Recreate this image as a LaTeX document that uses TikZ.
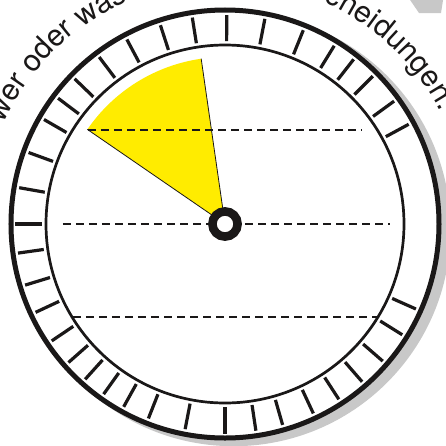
\documentclass[tikz,border=0pt]{standalone}
\usepackage{fontspec}
\usepackage{tikz}
\usetikzlibrary{decorations.text}
\newfontfamily\dialfont{TeX Gyre Heros}
\definecolor{dialyellow}{RGB}{255,236,0}
\definecolor{shadowgray}{RGB}{200,200,200}
\definecolor{ink}{RGB}{26,24,24}

\begin{document}
\begin{tikzpicture}[x=1pt, y=1pt,
    tickmark/.style={line width=3.2pt, ink},
    guide/.style={line width=1.5pt, ink, dash pattern=on 8pt off 5pt},
    rimtext/.style={decorate, decoration={text along path, text color=ink,
        text={|\dialfont\fontsize{30pt}{36pt}\selectfont|#1}}}]
    \useasboundingbox (-225,-221) rectangle (221,224);
    \clip (-225,-221) rectangle (221,224);
    \coordinate (ctr) at (0,0);
    \coordinate (shadowctr) at (8.6,-5.2);

    % shadow and face
    \fill[shadowgray] (181,230) -- (194,211) -- (216,211) -- (219,230) -- cycle;
    \fill[shadowgray] (shadowctr) circle[radius=217pt];
    \fill[white] (ctr) circle[radius=214pt];
    \draw[ink, line width=5pt] (ctr) circle[radius=214pt];
    \draw[ink, line width=2.7pt] (ctr) circle[radius=179pt];

    % ticks
    \draw[tickmark] (28.5:183pt) -- (28.5:209pt);
    \draw[tickmark] (36:183pt) -- (36:209pt);
    \draw[tickmark] (45:183pt) -- (45:209pt);
    \draw[tickmark] (52:183pt) -- (52:209pt);
    \draw[tickmark] (58.5:183pt) -- (58.5:209pt);
    \draw[tickmark] (68:183pt) -- (68:209pt);
    \draw[tickmark] (79:183pt) -- (79:209pt);
    \draw[tickmark] (89.5:183pt) -- (89.5:209pt);
    \draw[tickmark] (99:183pt) -- (99:209pt);
    \draw[tickmark] (108:183pt) -- (108:209pt);
    \draw[tickmark] (118:183pt) -- (118:209pt);
    \draw[tickmark] (127:183pt) -- (127:209pt);
    \draw[tickmark] (136:183pt) -- (136:209pt);
    \draw[tickmark] (143:183pt) -- (143:209pt);
    \draw[tickmark] (150:183pt) -- (150:209pt);
    \draw[tickmark] (160:183pt) -- (160:209pt);
    \draw[tickmark] (170:183pt) -- (170:209pt);
    \draw[tickmark] (180:183pt) -- (180:210pt);
    \draw[tickmark] (188:183pt) -- (188:209pt);
    \draw[tickmark] (197:183pt) -- (197:209pt);
    \draw[tickmark] (205:183pt) -- (205:209pt);
    \draw[tickmark] (214:183pt) -- (214:209pt);
    \draw[tickmark] (221.5:183pt) -- (221.5:209pt);
    \draw[tickmark] (228:183pt) -- (228:209pt);
    \draw[tickmark] (234.5:183pt) -- (234.5:209pt);
    \draw[tickmark] (241:183pt) -- (241:209pt);
    \draw[tickmark] (248.5:183pt) -- (248.5:209pt);
    \draw[tickmark] (259:183pt) -- (259:209pt);
    \draw[tickmark] (270:183pt) -- (270:210pt);
    \draw[tickmark] (278.5:183pt) -- (278.5:209pt);
    \draw[tickmark] (286:183pt) -- (286:209pt);
    \draw[tickmark] (295:183pt) -- (295:209pt);
    \draw[tickmark] (303:183pt) -- (303:209pt);
    \draw[tickmark] (311:183pt) -- (311:209pt);
    \draw[tickmark] (319:183pt) -- (319:209pt);
    \draw[tickmark] (328:183pt) -- (328:209pt);
    \draw[tickmark] (336:183pt) -- (336:209pt);

    % sector
    \fill[dialyellow] (ctr) -- (145.5:167pt) arc[start angle=145.5, end angle=98.2, radius=167pt] -- cycle;
    \draw[ink, line width=0.8pt] (145.5:167pt) -- (ctr) -- (98.2:167pt);

    % guide lines
    \draw[guide] (-137,94) -- (137,94);
    \draw[guide] (-162,0) -- (165,0);
    \draw[guide] (-152,-93) -- (153,-93);

    % knob
    \draw[ink, line width=8.6pt, fill=white] (ctr) circle[radius=12.6pt];

    % rim text
    \path[rimtext={wer oder was}] (155.5:243pt) arc[start angle=155.5, end angle=85, radius=243pt];
    \path[rimtext={Entscheidungen.}, decoration={text align=right}] (105:243pt) arc[start angle=105, end angle=27.5, radius=243pt];
\end{tikzpicture}
\end{document}
